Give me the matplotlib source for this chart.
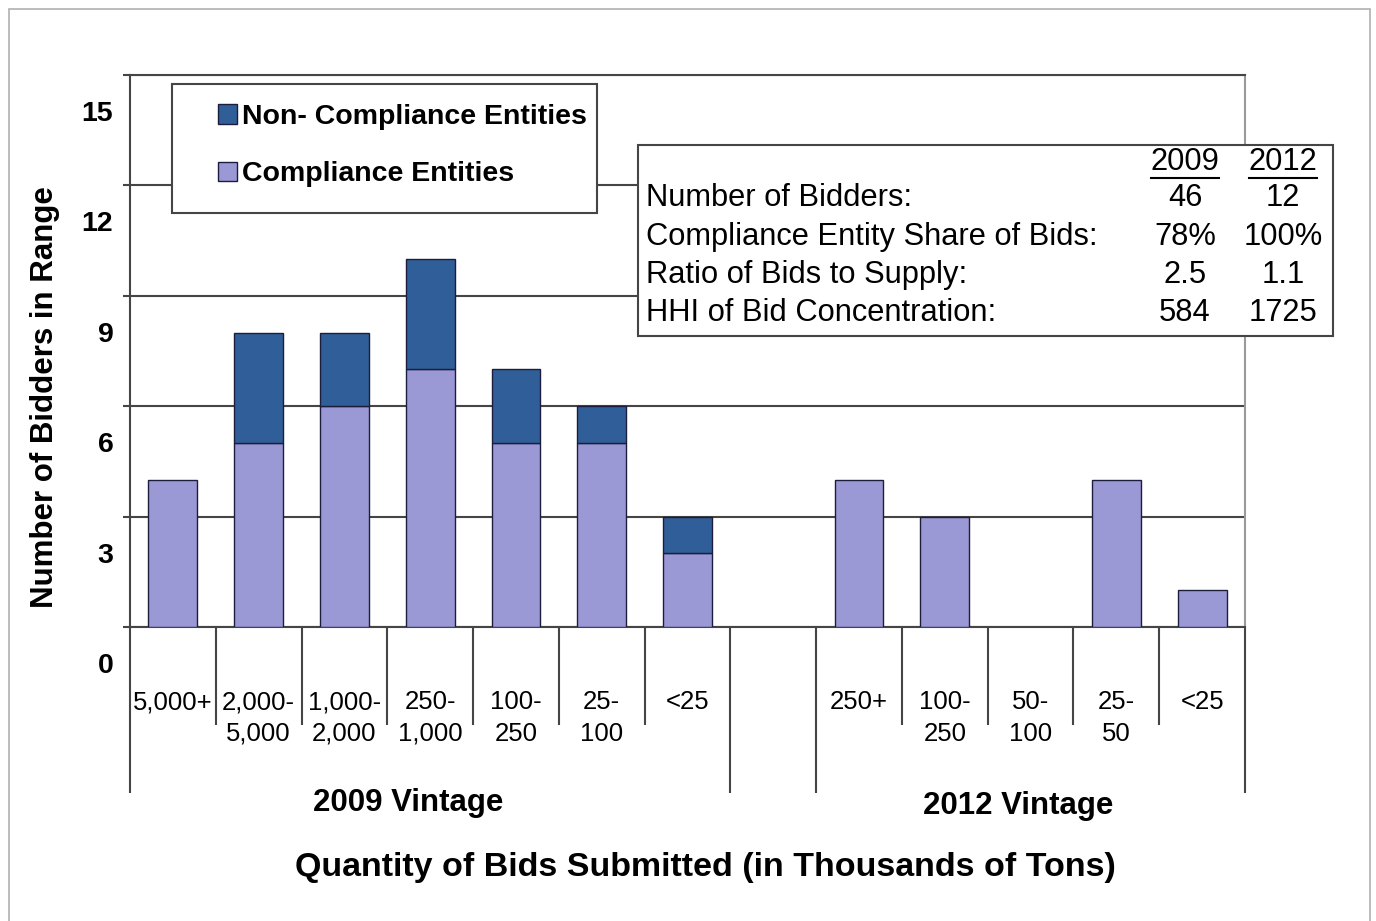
import matplotlib
matplotlib.use('Agg')
import matplotlib.pyplot as plt
import matplotlib.patches as mpatches
from matplotlib.transforms import ScaledTranslation

plt.rcParams['font.family'] = ['Liberation Sans', 'DejaVu Sans']

# bid size ranges (thousands of tons)
cats_2009 = ['5,000+', '2,000-\n5,000', '1,000-\n2,000', '250-\n1,000', '100-\n250', '25-\n100', '<25']
cats_2012 = ['250+', '100-\n250', '50-\n100', '25-\n50', '<25']

# number of bidders in each range
comp_2009 = [4, 5, 6, 7, 5, 5, 2]
non_2009 = [0, 3, 2, 3, 2, 1, 1]
comp_2012 = [4, 3, 0, 4, 1]
non_2012 = [0, 0, 0, 0, 0]

yticks = [0, 3, 6, 9, 12, 15]

stat_names = ['Number of Bidders:', 'Compliance Entity Share of Bids:',
              'Ratio of Bids to Supply:', 'HHI of Bid Concentration:']
stat_2009 = ['46', '78%', '2.5', '584']
stat_2012 = ['12', '100%', '1.1', '1725']

c_comp = '#9b99d5'
c_non = '#2f5e98'
c_edge = '#1c1c3c'
c_line = '#454545'

W, H = 1376, 921
fig = plt.figure(figsize=(W / 100, H / 100), dpi=100)


def fx(px):
    return px / W


def fy(py):
    return 1 - py / H


ax = fig.add_axes([fx(130), fy(627), fx(1245) - fx(130), fy(75) - fy(627)])

xpos = list(range(len(cats_2009))) + [len(cats_2009) + 1 + i for i in range(len(cats_2012))]
comp = comp_2009 + comp_2012
non = non_2009 + non_2012
labels = cats_2009 + cats_2012

bw = 0.57
for x, c, n in zip(xpos, comp, non):
    if c > 0:
        ax.bar(x, c, bw, color=c_comp, edgecolor=c_edge, lw=1, zorder=3)
    if n > 0:
        ax.bar(x, n, bw, bottom=c, color=c_non, edgecolor=c_edge, lw=1, zorder=3)

ax.set_xlim(-0.5, xpos[-1] + 0.5)
ax.set_ylim(0, 15)
ax.set_yticks(yticks)
ax.set_yticklabels([str(v) for v in yticks], fontsize=20.5, fontweight='bold')
ax.yaxis.grid(True, color=c_line, lw=1.5)
ax.set_axisbelow(True)
ax.tick_params(axis='y', direction='out', length=5, width=1.5, color=c_line, pad=7)
# Excel drew the value labels about one third of a step below the gridlines
for lab in ax.get_yticklabels():
    lab.set_transform(lab.get_transform() + ScaledTranslation(0, -0.36, fig.dpi_scale_trans))

ax.set_xticks(xpos)
ax.set_xticklabels(labels, fontsize=18.5, linespacing=1.4)
ax.tick_params(axis='x', length=0, pad=45.5)

for s in ['top', 'left', 'bottom']:
    ax.spines[s].set_color(c_line)
    ax.spines[s].set_linewidth(1.5)
ax.spines['right'].set_color('#9a9a9a')
ax.spines['right'].set_linewidth(1.5)

# category separators below the axis
long_x = [-0.5, len(cats_2009) - 0.5, len(cats_2009) + 0.5, xpos[-1] + 0.5]
short_x = [i + 0.5 for i in range(len(cats_2009) - 1)] + [xpos[len(cats_2009)] + i + 0.5 for i in range(len(cats_2012) - 1)]
ax.vlines(long_x, -4.51, 0, color=c_line, lw=1.5, clip_on=False)
ax.vlines(short_x, -2.66, 0, color=c_line, lw=1.5, clip_on=False)

ax.text(2.74, -4.78, '2009 Vintage', ha='center', va='center', fontsize=22.5,
        fontweight='bold', clip_on=False)
ax.text(9.85, -4.86, '2012 Vintage', ha='center', va='center', fontsize=22.5,
        fontweight='bold', clip_on=False)

fig.text(fx(705), fy(867), 'Quantity of Bids Submitted (in Thousands of Tons)',
         ha='center', va='center', fontsize=24.5, fontweight='bold')
fig.text(fx(45), fy(397), 'Number of Bidders in Range', rotation=90,
         ha='center', va='center', fontsize=22.5, fontweight='bold')

# legend box
fig.add_artist(mpatches.Rectangle((fx(172), fy(213)), fx(597) - fx(172), fy(84) - fy(213),
                                  transform=fig.transFigure, facecolor='white',
                                  edgecolor=c_line, lw=1.5, zorder=2))
handles = [mpatches.Patch(facecolor=c_non, edgecolor=c_edge, label='Non- Compliance Entities'),
           mpatches.Patch(facecolor=c_comp, edgecolor=c_edge, label='Compliance Entities')]
leg = fig.legend(handles=handles, loc='upper left', bbox_to_anchor=(fx(218), fy(104)),
                 frameon=False, prop={'size': 20.5, 'weight': 'bold'},
                 handlelength=0.65, handleheight=0.65, handletextpad=0.2,
                 labelspacing=1.1, borderpad=0, borderaxespad=0)
leg.set_zorder(3)

# statistics box
fig.add_artist(mpatches.Rectangle((fx(638), fy(336)), fx(1333) - fx(638), fy(145) - fy(336),
                                  transform=fig.transFigure, facecolor='white',
                                  edgecolor=c_line, lw=1.5, zorder=2))
row_y = [198, 237, 275, 313]
col_x = [1185, 1283]
fs_tab = 22.2
for y, name, a, b in zip(row_y, stat_names, stat_2009, stat_2012):
    fig.text(fx(646), fy(y), name, ha='left', va='center', fontsize=fs_tab, zorder=4)
    fig.text(fx(col_x[0]), fy(y), a, ha='center', va='center', fontsize=fs_tab, zorder=4)
    fig.text(fx(col_x[1]), fy(y), b, ha='center', va='center', fontsize=fs_tab, zorder=4)
heads = []
for cx, h in zip(col_x, ['2009', '2012']):
    heads.append(fig.text(fx(cx), fy(162), h, ha='center', va='center', fontsize=fs_tab, zorder=4))

fig.canvas.draw()
r = fig.canvas.get_renderer()
for t in heads:
    bb = t.get_window_extent(r)
    fig.add_artist(plt.Line2D([bb.x0 / W, bb.x1 / W], [fy(178), fy(178)],
                              transform=fig.transFigure, color='black', lw=1.5, zorder=4))

# outer frame of the picture
fig.add_artist(mpatches.Rectangle((fx(9), fy(940)), fx(1370) - fx(9), fy(9) - fy(940),
                                  transform=fig.transFigure, facecolor='none',
                                  edgecolor='#b0b0b0', lw=1.2, zorder=1))

fig.savefig('out.png', dpi=100)
